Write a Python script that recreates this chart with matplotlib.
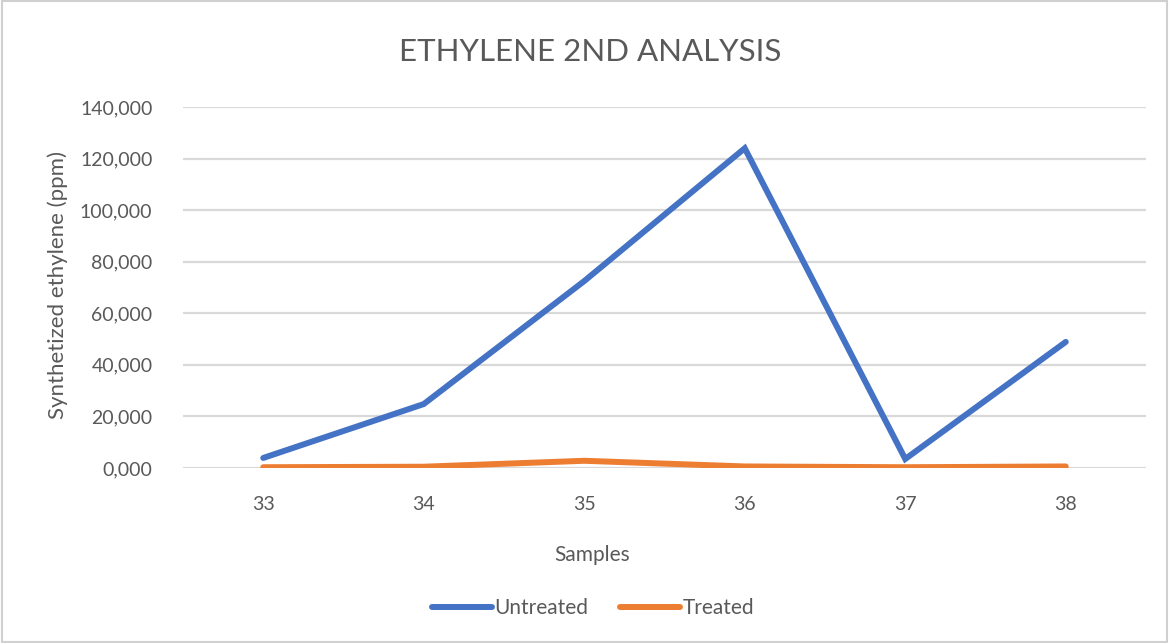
import matplotlib
matplotlib.use("Agg")
import matplotlib.pyplot as plt
from matplotlib.patches import Rectangle

samples = ["33", "34", "35", "36", "37", "38"]
untreated = [3900, 24800, 72500, 124000, 3500, 48900]
treated = [300, 500, 2800, 600, 300, 600]
ytick_values = [0, 20000, 40000, 60000, 80000, 100000, 120000, 140000]
ytick_labels = ["0,000", "20,000", "40,000", "60,000", "80,000", "100,000", "120,000", "140,000"]

plt.rcParams['font.family'] = ['Lato', 'DejaVu Sans']
txt = '#595959'

fig = plt.figure(figsize=(11.69, 6.43), dpi=100)
fig.patches.append(Rectangle((0.002, 0.002), 0.996, 0.996, transform=fig.transFigure,
                             fill=False, edgecolor='#D0D0D0', linewidth=1.5))

W, H = 1169, 643
left, right, top, bottom = 183, 1146, 107, 468
ax = fig.add_axes([left / W, 1 - bottom / H, (right - left) / W, (bottom - top) / H])

x = list(range(len(samples)))
ax.plot(x, untreated, color='#4472C4', linewidth=4.3, solid_capstyle='round',
        solid_joinstyle='miter', label='Untreated', zorder=3)
ax.plot(x, treated, color='#ED7D31', linewidth=4.3, solid_capstyle='round',
        label='Treated', zorder=3)

ax.set_xlim(-0.5, len(samples) - 0.5)
ax.set_ylim(0, 140000)
ax.set_yticks(ytick_values)
ax.set_yticklabels(ytick_labels)
ax.set_xticks(x)
ax.set_xticklabels(samples)
ax.grid(axis='y', color='#D9D9D9', linewidth=1.6, zorder=0)
ax.set_axisbelow(True)
for s in ['top', 'right', 'left', 'bottom']:
    ax.spines[s].set_visible(False)
ax.tick_params(axis='both', length=0, labelsize=14, labelcolor=txt)
ax.tick_params(axis='y', pad=22)
ax.tick_params(axis='x', pad=20)

fig.text(0.5 * (402 + 778) / W, 1 - 52 / H, "ETHYLENE 2ND ANALYSIS", ha='center', va='center',
         fontsize=22.5, color=txt)
fig.text(592 / W, 1 - 555 / H, "Samples", ha='center', va='center', fontsize=15, color=txt)
fig.text(58 / W, 1 - 285 / H, "Synthetized ethylene (ppm)", ha='center', va='center',
         rotation=90, fontsize=16, color=txt)

leg = fig.legend(loc='center', bbox_to_anchor=(593 / W, 1 - 608 / H), ncol=2, frameon=False,
                 fontsize=15, handlelength=2.9, handletextpad=0.1, columnspacing=1.5)
for t in leg.get_texts():
    t.set_color(txt)

fig.savefig("out.png", dpi=100)
